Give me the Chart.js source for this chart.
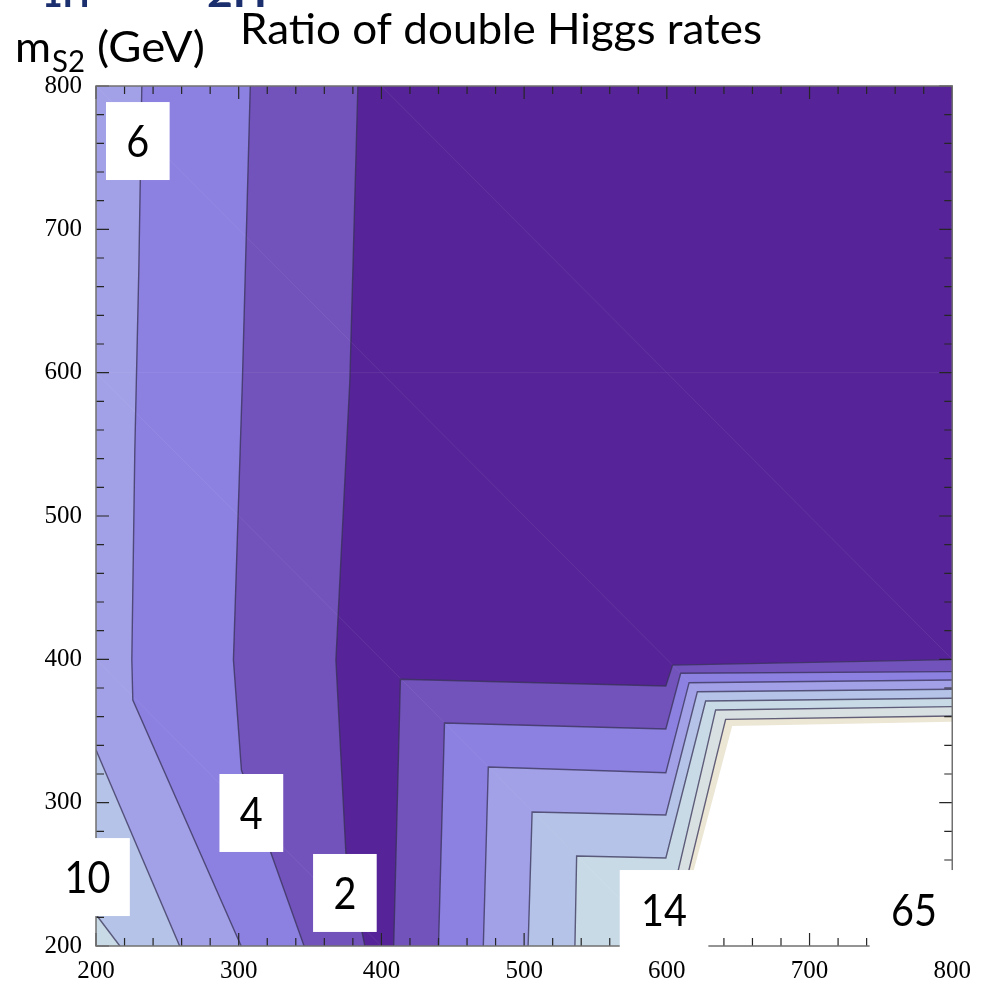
<!DOCTYPE html>
<html>
<head>
<meta charset="utf-8">
<script src="https://cdn.jsdelivr.net/npm/chart.js@4.4.0/dist/chart.umd.min.js"></script>
<style>
  html, body { margin: 0; padding: 0; background: #ffffff; overflow: hidden; }
  canvas { display: block; }
</style>
</head>
<body>
<canvas id="chart" width="981" height="986"></canvas>
<script>
// Axis ticks (GeV)
const xTickValues = [200, 300, 400, 500, 600, 700, 800];
const yTickValues = [200, 300, 400, 500, 600, 700, 800];
const minorStep = 20;

// Contour level boundaries in the (m_S1, m_S2) plane, GeV.
// West branches run from the top (or left) edge down to the bottom edge.
const level1West = [[383.5, 800], [377.9, 594.9], [368.1, 399.5], [375.1, 264.9], [388.4, 200]];
const level2West = [[308.1, 800], [302.6, 594.9], [296.3, 399.5], [301.9, 322.8], [345.8, 200]];
const level3West = [[232.1, 800], [230.0, 671.6], [227.2, 546.0], [225.1, 399.5], [225.8, 371.6], [301.7, 200]];
const level4West = [[200, 336.7], [258.6, 200]];
const level5West = [[200, 222.0], [216.7, 200]];

// East branches run from the bottom edge up and over to the right edge.
const level1East = [[408.6, 200], [413.3, 386.1], [599.3, 381.4], [604.0, 396.0], [800, 399.8]];
const level2East = [[440.0, 200], [444.2, 355.6], [599.3, 351.4], [609.7, 390.3], [800, 391.4]];
const level3East = [[471.4, 200], [474.9, 324.9], [599.3, 320.9], [615.6, 383.7], [800, 385.6]];
const level4East = [[502.8, 200], [505.6, 293.5], [599.3, 291.4], [621.4, 377.4], [800, 379.1]];
const level5East = [[535.6, 200], [536.8, 262.8], [599.3, 261.4], [627.2, 370.9], [800, 372.8]];
const level6East = [[595.6, 200], [626.1, 329.8], [634.2, 364.7], [800, 367.0]];
const level7East = [[602.6, 200], [634.2, 329.8], [641.2, 358.1], [800, 360.5]];
const level8East = [[604.7, 200], [645.8, 353.5], [800, 356.5]];

// Band fills, lowest ratio first
const bandColors = ['#562498', '#7252bb', '#8c80e1', '#a2a0e7', '#b4c3e7', '#c9dae7', '#d9e0e1', '#ece6d5', '#ffffff'];

// Faint triangulation seams of the filled mesh
const meshSeams = [
  [[200, 400], [400, 200]],
  [[200, 600], [600, 200]],
  [[200, 800], [800, 200]],
  [[400, 800], [800, 400]],
  [[200, 600], [800, 600]]
];

// Region labels and their boxes [xLeft, yTop, xRight, yBottom] in GeV
const regionLabels = ['6', '4', '2', '10', '14', '65'];
const regionLabelBoxes = [
  [207.0, 788.8, 251.6, 734.4],
  [286.5, 320.0, 331.2, 265.6],
  [352.1, 264.2, 396.7, 209.8],
  [164.4, 275.3, 223.7, 220.9],
  [567.0, 253.0, 629.1, 197.9],
  [742.1, 253.0, 804.2, 197.2]
];

const W = 200, E = 800, S = 200, N = 800;

function westRegion(b) {
  const p = b.slice();
  p.push([W, S]);
  if (b[0][1] === N) p.push([W, N]);
  return p;
}
function eastRegion(b) {
  return b.concat([[E, S]]);
}
function toXY(pts) {
  return pts.map(([x, y]) => ({ x, y }));
}

const layers = [
  { pts: [[W, S], [W, N], [E, N], [E, S]], color: bandColors[0] },
  { pts: westRegion(level1West), color: bandColors[1] },
  { pts: eastRegion(level1East), color: bandColors[1] },
  { pts: westRegion(level2West), color: bandColors[2] },
  { pts: eastRegion(level2East), color: bandColors[2] },
  { pts: westRegion(level3West), color: bandColors[3] },
  { pts: eastRegion(level3East), color: bandColors[3] },
  { pts: westRegion(level4West), color: bandColors[4] },
  { pts: eastRegion(level4East), color: bandColors[4] },
  { pts: westRegion(level5West), color: bandColors[5] },
  { pts: eastRegion(level5East), color: bandColors[5] },
  { pts: eastRegion(level6East), color: bandColors[6] },
  { pts: eastRegion(level7East), color: bandColors[7] },
  { pts: eastRegion(level8East), color: bandColors[8] }
];

const contourLines = [
  level1West, level2West, level3West, level4West, level5West,
  level1East, level2East, level3East, level4East, level5East, level6East, level7East
];

const datasets = [];
layers.forEach((layer, i) => {
  datasets.push({
    data: toXY(layer.pts),
    fill: 'shape',
    backgroundColor: layer.color,
    borderColor: 'rgba(0,0,0,0)',
    borderWidth: 0,
    pointRadius: 0,
    tension: 0,
    order: 1000 - i
  });
});
meshSeams.forEach(seam => {
  datasets.push({
    data: toXY(seam),
    fill: false,
    borderColor: 'rgba(255,255,255,0.07)',
    borderWidth: 1,
    pointRadius: 0,
    tension: 0,
    order: 5
  });
});
contourLines.forEach(line => {
  datasets.push({
    data: toXY(line),
    fill: false,
    borderColor: 'rgba(55,50,85,0.75)',
    borderWidth: 1.4,
    pointRadius: 0,
    tension: 0,
    order: 1
  });
});

function fitText(ctx, text, x, y, font, width, color) {
  ctx.save();
  ctx.font = font;
  ctx.fillStyle = color;
  ctx.textBaseline = 'alphabetic';
  ctx.textAlign = 'left';
  const w = ctx.measureText(text).width;
  const sx = width ? width / w : 1;
  ctx.translate(x, y);
  ctx.scale(sx, 1);
  ctx.fillText(text, 0, 0);
  ctx.restore();
}

const framePlugin = {
  id: 'frameTicksLabels',
  afterDatasetsDraw(chart) {
    const { ctx, chartArea: a, scales: { x, y } } = chart;
    ctx.save();
    ctx.strokeStyle = '#262626';
    ctx.lineWidth = 1.2;
    ctx.beginPath();
    for (let v = 200; v <= 800; v += minorStep) {
      const len = v % 100 === 0 ? 13 : 8;
      const px = x.getPixelForValue(v);
      const py = y.getPixelForValue(v);
      ctx.moveTo(px, a.bottom); ctx.lineTo(px, a.bottom - len);
      ctx.moveTo(px, a.top); ctx.lineTo(px, a.top + len);
      ctx.moveTo(a.left, py); ctx.lineTo(a.left + len, py);
      ctx.moveTo(a.right, py); ctx.lineTo(a.right - len, py);
    }
    ctx.stroke();
    ctx.strokeStyle = '#707070';
    ctx.lineWidth = 1.5;
    ctx.strokeRect(a.left, a.top, a.right - a.left, a.bottom - a.top);
    ctx.restore();
  },
  afterDraw(chart) {
    const { ctx, scales: { x, y } } = chart;
    // region labels
    regionLabels.forEach((txt, i) => {
      const [x0, y0, x1, y1] = regionLabelBoxes[i];
      const l = x.getPixelForValue(x0), r = x.getPixelForValue(x1);
      const t = y.getPixelForValue(y0), b = y.getPixelForValue(y1);
      ctx.save();
      ctx.fillStyle = '#ffffff';
      ctx.fillRect(l, t, r - l, b - t);
      ctx.font = '45px Lato';
      ctx.fillStyle = '#000000';
      ctx.textBaseline = 'alphabetic';
      ctx.textAlign = 'center';
      ctx.translate((l + r) / 2, (t + b) / 2 + 16.2);
      ctx.scale(0.88, 1);
      ctx.fillText(txt, 0, 0);
      ctx.restore();
    });
    // headings
    fitText(ctx, '1H', 42, 7, 'bold 40px Lato', 48, '#1b2f6e');
    fitText(ctx, '2H', 207, 7, 'bold 40px Lato', 60, '#1b2f6e');
    fitText(ctx, 'Ratio of double Higgs rates', 240, 43.5, '42px Lato', 522, '#000000');
    fitText(ctx, 'm', 15, 62, '42px Lato', 36, '#000000');
    fitText(ctx, 'S2', 52, 72, '30px Lato', 33, '#000000');
    fitText(ctx, '(GeV)', 97, 62, '42px Lato', 108, '#000000');
  }
};

const tickFont = { family: 'Liberation Serif', size: 25 };

new Chart(document.getElementById('chart'), {
  type: 'line',
  data: { datasets },
  options: {
    responsive: false,
    animation: false,
    devicePixelRatio: 1,
    events: [],
    layout: { padding: { top: 86, right: 25, bottom: 0, left: 0 } },
    plugins: { legend: { display: false }, tooltip: { enabled: false }, title: { display: false } },
    scales: {
      x: {
        type: 'linear',
        min: 200,
        max: 800,
        afterBuildTicks(scale) { scale.ticks = xTickValues.map(v => ({ value: v })); },
        afterFit(scale) { scale.height = 40; },
        grid: { display: false, drawTicks: false },
        border: { display: false },
        ticks: { font: tickFont, color: '#000000', padding: 10, maxRotation: 0, autoSkip: false }
      },
      y: {
        type: 'linear',
        min: 200,
        max: 800,
        afterBuildTicks(scale) { scale.ticks = yTickValues.map(v => ({ value: v })); },
        afterFit(scale) { scale.width = 96; },
        grid: { display: false, drawTicks: false },
        border: { display: false },
        ticks: { font: tickFont, color: '#000000', padding: 14, autoSkip: false }
      }
    }
  },
  plugins: [framePlugin]
});
</script>
</body>
</html>
